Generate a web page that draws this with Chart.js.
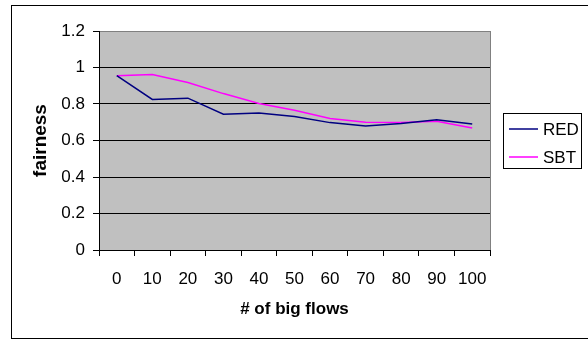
<!DOCTYPE html>
<html>
<head>
<meta charset="utf-8">
<script src="https://cdn.jsdelivr.net/npm/chart.js@4/dist/chart.umd.min.js"></script>
<style>
  html, body { margin: 0; padding: 0; background: #ffffff; }
  canvas { display: block; }
</style>
</head>
<body>
<canvas id="chart" width="588" height="341"></canvas>
<script>
// Number of big flows on the x axis
const flowCounts = ['0', '10', '20', '30', '40', '50', '60', '70', '80', '90', '100'];
// Fairness index per queueing scheme
const redFairness = [0.955, 0.825, 0.832, 0.744, 0.750, 0.731, 0.698, 0.679, 0.693, 0.714, 0.691];
const sbtFairness = [0.955, 0.962, 0.918, 0.857, 0.803, 0.766, 0.720, 0.700, 0.699, 0.705, 0.669];
// Value axis ticks and their labels
const fairnessTicks = [0, 0.2, 0.4, 0.6, 0.8, 1, 1.2];
const fairnessTickLabels = ['0', '0.2', '0.4', '0.6', '0.8', '1', '1.2'];

const FONT = 'Liberation Sans, Arial, sans-serif';

// Frame, grey plot area and boxed legend in the classic spreadsheet look
const chartFrame = {
  id: 'chartFrame',
  beforeDraw(chart) {
    const { ctx, chartArea: a } = chart;
    ctx.save();
    ctx.fillStyle = '#ffffff';
    ctx.fillRect(0, 0, chart.width, chart.height);
    ctx.strokeStyle = '#000000';
    ctx.lineWidth = 1;
    ctx.strokeRect(11.5, 5.5, 590, 333);
    ctx.fillStyle = '#c0c0c0';
    ctx.fillRect(a.left, a.top, a.right - a.left, a.bottom - a.top);
    ctx.strokeStyle = '#808080';
    ctx.strokeRect(Math.round(a.left) + 0.5, Math.round(a.top) + 0.5,
                   Math.round(a.right - a.left), Math.round(a.bottom - a.top));
    ctx.restore();
  },
  afterDraw(chart) {
    const { ctx } = chart;
    const box = { x: 503.5, y: 113.5, w: 78, h: 55 };
    ctx.save();
    ctx.fillStyle = '#ffffff';
    ctx.fillRect(box.x, box.y, box.w, box.h);
    ctx.strokeStyle = '#000000';
    ctx.lineWidth = 1;
    ctx.strokeRect(box.x, box.y, box.w, box.h);
    ctx.font = '17px ' + FONT;
    ctx.textBaseline = 'middle';
    ctx.textAlign = 'left';
    chart.data.datasets.forEach((ds, i) => {
      const y = 129 + i * 28;
      ctx.strokeStyle = ds.borderColor;
      ctx.lineWidth = 1.5;
      ctx.beginPath();
      ctx.moveTo(509, y);
      ctx.lineTo(538, y);
      ctx.stroke();
      ctx.fillStyle = '#000000';
      ctx.fillText(ds.label, 543, y + 1);
    });
    ctx.restore();
  }
};

new Chart(document.getElementById('chart'), {
  type: 'line',
  data: {
    labels: flowCounts,
    datasets: [
      { label: 'RED', data: redFairness, borderColor: '#000080', borderWidth: 1.5,
        pointRadius: 0, tension: 0, fill: false },
      { label: 'SBT', data: sbtFairness, borderColor: '#ff00ff', borderWidth: 1.5,
        pointRadius: 0, tension: 0, fill: false }
    ]
  },
  options: {
    responsive: false,
    devicePixelRatio: 1,
    animation: false,
    layout: { padding: { left: 0, top: 31, right: 98, bottom: 0 } },
    plugins: {
      legend: { display: false },
      tooltip: { enabled: false }
    },
    scales: {
      x: {
        type: 'category',
        offset: true,
        grid: { offset: true, drawOnChartArea: false, tickLength: 6, color: '#000000', lineWidth: 1 },
        border: { color: '#000000', width: 1 },
        ticks: { color: '#000000', font: { family: FONT, size: 17 }, padding: 13, maxRotation: 0, autoSkip: false },
        title: { display: true, text: '# of big flows', color: '#000000',
                 font: { family: FONT, size: 17, weight: 'bold' }, padding: { top: 0, bottom: 21 } },
        afterFit(scale) { scale.height = 91; }
      },
      y: {
        min: 0,
        max: 1.2,
        afterBuildTicks(scale) { scale.ticks = fairnessTicks.map(v => ({ value: v })); },
        grid: {
          tickLength: 6,
          lineWidth: 1,
          color: (c) => (c.tick && c.tick.value === 1.2 ? '#808080' : '#000000'),
          tickColor: '#000000'
        },
        border: { color: '#000000', width: 1 },
        ticks: {
          color: '#000000',
          font: { family: FONT, size: 17 },
          padding: 8,
          callback: (value, index) => fairnessTickLabels[index]
        },
        title: { display: true, text: 'fairness', color: '#000000',
                 font: { family: FONT, size: 19, weight: 'bold' }, padding: { top: 29, bottom: 0 } },
        afterFit(scale) { scale.width = 99; }
      }
    }
  },
  plugins: [chartFrame]
});
</script>
</body>
</html>
